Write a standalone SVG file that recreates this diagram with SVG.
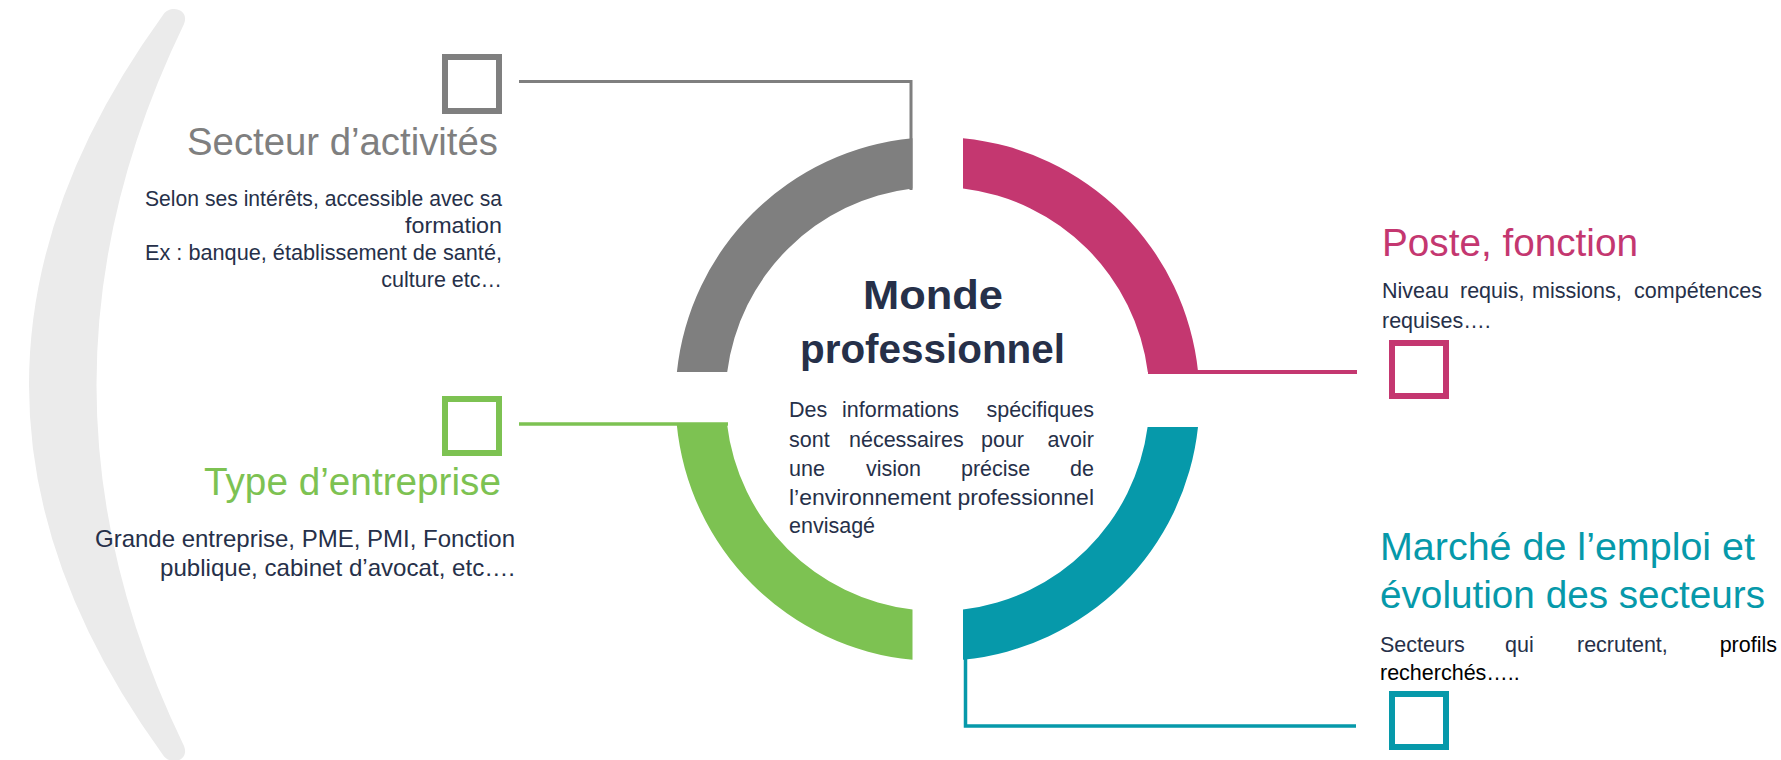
<svg xmlns="http://www.w3.org/2000/svg" width="1781" height="760" viewBox="0 0 1781 760">
  <style>
    text { font-family: "Liberation Sans", Arial, sans-serif; }
    .title { font-size: 38px; }
    .body { font-size: 21.5px; fill: #263049; }
    .big { font-size: 24px; }
    .blk { fill: #000000; }
    .sq { fill: none; stroke-width: 6; }
    .conn { fill: none; stroke-linejoin: miter; }
    .gray { fill: #7F7F7F; }
    .pink { fill: #C43770; }
    .green { fill: #7DC252; }
    .teal { fill: #0699AA; }
    .head { font-size: 40px; font-weight: bold; fill: #263049; }
  </style>

  <!-- decorative crescent -->
  <g id="crescent">
    <path d="M 163 15 C 170 4, 190 9, 184 24 Q 9 385 184 746 C 190 761, 170 766, 163 755 Q -105 385 163 15 Z" fill="#EBEBEB"/>
  </g>

  <!-- connectors -->
  <g id="connectors">
    <polyline class="conn" points="519,81.5 911,81.5 911,190" stroke="#7F7F7F" stroke-width="3"/>
    <line x1="1148" y1="372" x2="1357" y2="372" stroke="#C43770" stroke-width="4"/>
    <line x1="519" y1="424" x2="728" y2="424" stroke="#7DC252" stroke-width="3.5"/>
    <polyline class="conn" points="965.5,655 965.5,726 1356,726" stroke="#0699AA" stroke-width="3.5"/>
  </g>

  <!-- central node -->
  <g id="monde">
    <path class="gray" d="M 676.9 372 A 262 262 0 0 1 912.5 138.2 L 912.5 188.5 A 212 212 0 0 0 727.2 372 Z"/>
    <path class="pink" d="M 963 138.2 A 262 262 0 0 1 1198.1 372 L 1147.8 372 A 212 212 0 0 0 963 188.5 Z"/>
    <path class="green" d="M 676.7 424 L 727 424 A 212 212 0 0 0 912.5 609.5 L 912.5 659.8 A 262 262 0 0 1 676.7 424 Z"/>
    <path class="teal" d="M 1147.6 427 L 1198 427 A 262 262 0 0 1 963 659.8 L 963 609.5 A 212 212 0 0 0 1147.6 427 Z"/>
    <text class="head" x="933" y="309" text-anchor="middle" textLength="140" lengthAdjust="spacingAndGlyphs">Monde</text>
    <text class="head" x="932.5" y="363" text-anchor="middle" textLength="265" lengthAdjust="spacingAndGlyphs">professionnel</text>
    <text class="body" y="417"><tspan x="789">Des</tspan><tspan x="842">informations</tspan><tspan x="1094" text-anchor="end">spécifiques</tspan></text>
    <text class="body" y="447"><tspan x="789">sont</tspan><tspan x="849">nécessaires</tspan><tspan x="981">pour</tspan><tspan x="1094" text-anchor="end">avoir</tspan></text>
    <text class="body" y="476"><tspan x="789">une</tspan><tspan x="866">vision</tspan><tspan x="961">précise</tspan><tspan x="1094" text-anchor="end">de</tspan></text>
    <text class="body" x="789" y="505" textLength="305" lengthAdjust="spacingAndGlyphs">l’environnement professionnel</text>
    <text class="body" x="789" y="533">envisagé</text>
  </g>

  <!-- Secteur d'activités -->
  <g id="secteur">
    <rect class="sq" x="445" y="57" width="54" height="54" stroke="#7F7F7F"/>
    <text class="title gray" x="498" y="155" text-anchor="end" textLength="311" lengthAdjust="spacingAndGlyphs">Secteur d’activités</text>
    <text class="body" x="502" y="206" text-anchor="end" textLength="357" lengthAdjust="spacingAndGlyphs">Selon ses intérêts, accessible avec sa</text>
    <text class="body" x="502" y="233" text-anchor="end" textLength="97" lengthAdjust="spacingAndGlyphs">formation</text>
    <text class="body" x="502" y="260" text-anchor="end" textLength="357" lengthAdjust="spacingAndGlyphs">Ex : banque, établissement de santé,</text>
    <text class="body" x="502" y="287" text-anchor="end">culture etc…</text>
  </g>

  <!-- Type d'entreprise -->
  <g id="type">
    <rect class="sq" x="445" y="399" width="54" height="54" stroke="#7DC252"/>
    <text class="title green" x="501" y="495" text-anchor="end" textLength="297" lengthAdjust="spacingAndGlyphs">Type d’entreprise</text>
    <text class="body big" x="515" y="547" text-anchor="end" textLength="420" lengthAdjust="spacingAndGlyphs">Grande entreprise, PME, PMI, Fonction</text>
    <text class="body big" x="515" y="576" text-anchor="end" textLength="355" lengthAdjust="spacingAndGlyphs">publique, cabinet d’avocat, etc….</text>
  </g>

  <!-- Poste, fonction -->
  <g id="poste">
    <rect class="sq" x="1392" y="343" width="54" height="53" stroke="#C43770"/>
    <text class="title pink" x="1382" y="256" textLength="256" lengthAdjust="spacingAndGlyphs">Poste, fonction</text>
    <text class="body" y="298"><tspan x="1382">Niveau</tspan><tspan x="1460">requis,</tspan><tspan x="1532">missions,</tspan><tspan x="1762" text-anchor="end">compétences</tspan></text>
    <text class="body" x="1382" y="328">requises….</text>
  </g>

  <!-- Marché de l'emploi -->
  <g id="marche">
    <rect class="sq" x="1392" y="694" width="54" height="53" stroke="#0699AA"/>
    <text class="title teal" x="1380" y="560" textLength="375" lengthAdjust="spacingAndGlyphs">Marché de l’emploi et</text>
    <text class="title teal" x="1380" y="608" textLength="385" lengthAdjust="spacingAndGlyphs">évolution des secteurs</text>
    <text class="body" y="652"><tspan x="1380">Secteurs</tspan><tspan x="1505">qui</tspan><tspan x="1577">recrutent,</tspan><tspan class="blk" x="1777" text-anchor="end">profils</tspan></text>
    <text class="body blk" x="1380" y="680">recherchés…..</text>
  </g>
</svg>
